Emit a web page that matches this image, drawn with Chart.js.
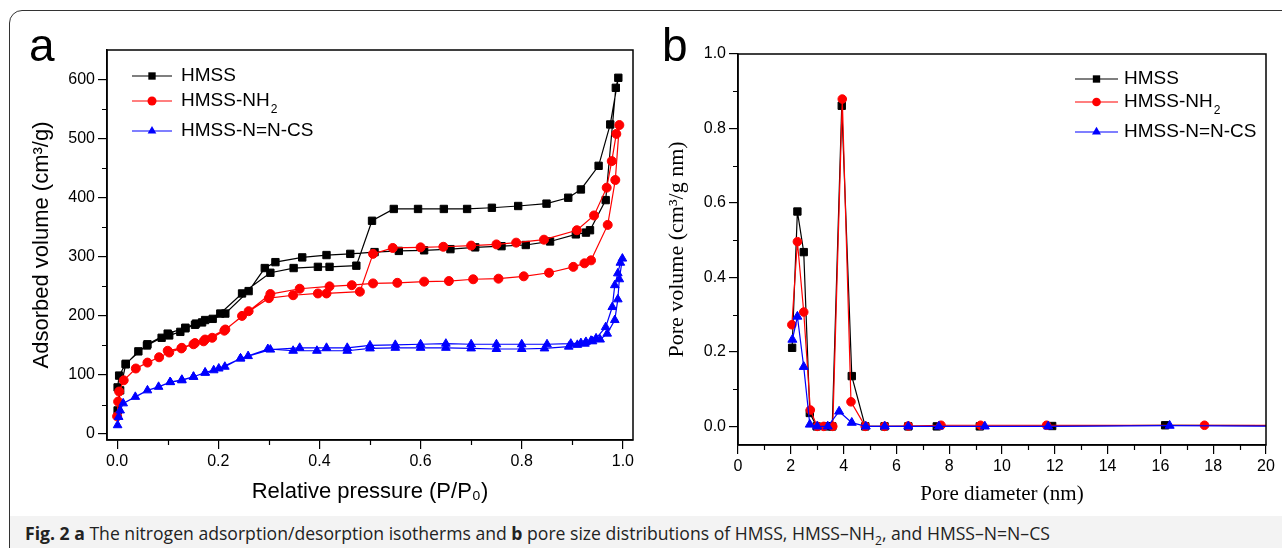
<!DOCTYPE html>
<html>
<head>
<meta charset="utf-8">
<script src="https://cdn.jsdelivr.net/npm/chart.js@4.4.1/dist/chart.umd.min.js"></script>
<style>
  html, body { margin: 0; padding: 0; background: #fff; }
  body { width: 1282px; height: 548px; position: relative; overflow: hidden; }
  #marco { position: absolute; left: 9px; top: 10px; width: 1330px; height: 600px; border: 1.5px solid #333; border-radius: 13px; box-sizing: border-box; }
  #pie { position: absolute; left: 10px; top: 516px; width: 1290px; height: 40px; background: #f3f3f3; }
  #pie p { margin: 0; position: absolute; left: 15px; top: 6px; font-family: 'Open Sans', sans-serif; font-size: 17.6px; line-height: 22px; color: #222; white-space: nowrap; }
  #pie sub { font-size: 12px; line-height: 0; }
  canvas { position: absolute; top: 0; }
  #grafico-a { left: 0; }
  #grafico-b { left: 640px; }
  .letra { position: absolute; font-family: 'Liberation Sans', Arial, sans-serif; font-size: 46px; line-height: 1; color: #000; }
</style>
</head>
<body>
<div id="marco"></div>
<div id="pie"><p><b>Fig. 2</b> <b>a</b> The nitrogen adsorption/desorption isotherms and <b>b</b> pore size distributions of HMSS, HMSS–NH<sub>2</sub>, and HMSS–N=N–CS</p></div>
<canvas id="grafico-a" width="660" height="510"></canvas>
<canvas id="grafico-b" width="642" height="512"></canvas>
<div class="letra" style="left:29px; top:22px;">a</div>
<div class="letra" style="left:662px; top:22px;">b</div>
<script>
// ---- (a) isotermas: presion relativa y volumen adsorbido ----
const hmssAdsP = [0.001, 0.006, 0.017, 0.042, 0.059, 0.088, 0.103, 0.125, 0.135, 0.154, 0.174, 0.204, 0.247, 0.303, 0.349, 0.397, 0.42, 0.473, 0.504, 0.547, 0.595, 0.646, 0.692, 0.741, 0.793, 0.849, 0.892, 0.917, 0.952, 0.975, 0.991];
const hmssAdsV = [40, 74, 118, 140, 150, 163, 167, 173, 179, 185, 193, 204, 238, 273, 281, 283, 283, 285, 361, 381, 381, 381, 381, 383, 386, 390, 400, 414, 454, 524, 603];
const hmssDesP = [0.986, 0.966, 0.935, 0.927, 0.907, 0.856, 0.808, 0.76, 0.708, 0.659, 0.607, 0.557, 0.509, 0.461, 0.414, 0.366, 0.313, 0.292, 0.26, 0.214, 0.189, 0.168, 0.156, 0.135, 0.1, 0.06, 0.017, 0.004, 0.001];
const hmssDesV = [586, 396, 345, 341, 338, 326, 320, 318, 316, 313, 311, 310, 308, 305, 303, 299, 291, 281, 242, 204, 195, 189, 187, 180, 170, 152, 119, 99, 79];

const nh2AdsP = [0.0, 0.002, 0.004, 0.013, 0.037, 0.06, 0.083, 0.103, 0.127, 0.151, 0.171, 0.188, 0.212, 0.247, 0.3, 0.348, 0.397, 0.414, 0.48, 0.506, 0.545, 0.6, 0.645, 0.7, 0.75, 0.789, 0.844, 0.909, 0.943, 0.968, 0.978, 0.987, 0.993];
const nh2AdsV = [30, 55, 72, 91, 111, 121, 130, 138, 145, 152, 157, 163, 175, 200, 230, 235, 238, 238, 241, 305, 315, 316, 317, 319, 321, 324, 329, 345, 370, 417, 462, 508, 523];
const nh2DesP = [0.985, 0.97, 0.937, 0.924, 0.902, 0.854, 0.804, 0.754, 0.704, 0.656, 0.607, 0.554, 0.506, 0.464, 0.42, 0.361, 0.303, 0.26, 0.214, 0.174, 0.154, 0.128, 0.1];
const nh2DesV = [430, 354, 294, 289, 283, 273, 267, 263, 262, 259, 258, 256, 255, 252, 250, 246, 237, 208, 177, 160, 154, 146, 141];

const csAdsP = [0.001, 0.003, 0.006, 0.012, 0.036, 0.06, 0.082, 0.105, 0.128, 0.151, 0.174, 0.191, 0.213, 0.244, 0.298, 0.348, 0.395, 0.455, 0.5, 0.55, 0.6, 0.65, 0.7, 0.75, 0.8, 0.845, 0.893, 0.91, 0.925, 0.94, 0.955, 0.969, 0.984, 0.99, 0.993, 0.999];
const csAdsV = [15, 29, 40, 52, 63, 74, 80, 88, 91, 97, 104, 108, 114, 128, 144, 141, 141, 141, 145, 146, 146, 146, 145, 144, 144, 145, 148, 151, 153, 157, 160, 170, 193, 228, 262, 297];
const csDesP = [0.995, 0.99, 0.984, 0.979, 0.966, 0.947, 0.937, 0.927, 0.917, 0.897, 0.85, 0.8, 0.75, 0.7, 0.65, 0.6, 0.55, 0.5, 0.455, 0.414, 0.361, 0.303, 0.259, 0.244, 0.201, 0.174, 0.151, 0.128, 0.105];
const csDesV = [290, 272, 252, 215, 181, 162, 158, 156, 154, 153, 152, 152, 152, 152, 153, 152, 151, 150, 146, 146, 146, 143, 132, 128, 111, 104, 97, 92, 88];

const marcasXa = [0, 0.2, 0.4, 0.6, 0.8, 1.0];
const menoresXa = [0.1, 0.3, 0.5, 0.7, 0.9];
const marcasYa = [0, 100, 200, 300, 400, 500, 600];
const menoresYa = [50, 150, 250, 350, 450, 550];

// ---- (b) distribucion de poros ----
const hmssDiam = [2.05, 2.25, 2.49, 2.72, 2.98, 3.4, 3.57, 3.93, 4.31, 4.82, 5.55, 6.45, 7.53, 9.16, 11.9, 16.18, 21];
const hmssPoro = [0.211, 0.577, 0.468, 0.036, 0.0, 0.0, 0.0, 0.861, 0.135, 0.0, 0.0, 0.0, 0.0, 0.0, 0.001, 0.003, 0.002];
const nh2Diam = [2.04, 2.25, 2.49, 2.74, 3.0, 3.25, 3.59, 3.95, 4.28, 4.82, 5.55, 6.45, 7.69, 9.19, 11.69, 17.67, 21];
const nh2Poro = [0.273, 0.496, 0.307, 0.044, 0.0, 0.0, 0.0, 0.879, 0.066, 0.0, 0.0, 0.001, 0.003, 0.003, 0.003, 0.003, 0.003];
const csDiam = [2.06, 2.25, 2.49, 2.72, 3.0, 3.4, 3.83, 4.31, 4.84, 5.56, 6.45, 7.61, 9.35, 11.75, 16.35, 21];
const csPoro = [0.233, 0.295, 0.16, 0.005, 0.0, 0.0, 0.04, 0.01, 0.0, 0.0, 0.0, 0.0, 0.0, 0.0, 0.002, 0.0];

const marcasXb = [0, 2, 4, 6, 8, 10, 12, 14, 16, 18, 20];
const menoresXb = [1, 3, 5, 7, 9, 11, 13, 15, 17, 19];
const marcasYb = [0, 0.2, 0.4, 0.6, 0.8, 1.0];
const menoresYb = [0.1, 0.3, 0.5, 0.7, 0.9];

const series = ['HMSS', 'HMSS-NH', 'HMSS-N=N-CS'];
const colores = ['#000000', '#ff0000', '#0000ff'];
const estilos = ['rect', 'circle', 'triangle'];

const fuenteSans = "'Liberation Sans', Arial, sans-serif";
const fuenteSerif = "'Liberation Serif', 'Times New Roman', serif";

function puntos(xs, ys) {
  return xs.map((x, i) => ({ x: x, y: ys[i] }));
}

function dibujarMarcador(ctx, estilo, x, y, r) {
  ctx.beginPath();
  if (estilo === 'rect') {
    const s = r * Math.SQRT1_2;
    ctx.rect(x - s, y - s, 2 * s, 2 * s);
  } else if (estilo === 'circle') {
    ctx.arc(x, y, r, 0, Math.PI * 2);
  } else {
    ctx.moveTo(x, y - r);
    ctx.lineTo(x + r * Math.sin(2 * Math.PI / 3), y - r * Math.cos(2 * Math.PI / 3));
    ctx.lineTo(x + r * Math.sin(4 * Math.PI / 3), y - r * Math.cos(4 * Math.PI / 3));
    ctx.closePath();
  }
  ctx.fill();
}

// marco del area, marcas menores y leyenda
const pluginMarco = {
  id: 'marco',
  afterDraw(chart, args, opts) {
    const ctx = chart.ctx;
    const area = chart.chartArea;
    const sx = chart.scales.x;
    const sy = chart.scales.y;
    ctx.save();
    ctx.strokeStyle = '#000';
    ctx.lineWidth = 1.5;
    ctx.strokeRect(area.left, area.top, area.right - area.left, area.bottom - area.top);

    ctx.lineWidth = 1.2;
    ctx.beginPath();
    for (const v of opts.menoresX) {
      const px = Math.round(sx.getPixelForValue(v)) + 0.5;
      ctx.moveTo(px, area.bottom);
      ctx.lineTo(px, area.bottom + 5);
    }
    for (const v of opts.menoresY) {
      const py = Math.round(sy.getPixelForValue(v)) + 0.5;
      ctx.moveTo(area.left - 5, py);
      ctx.lineTo(area.left, py);
    }
    ctx.stroke();

    const ley = opts.leyenda;
    ctx.font = '19px ' + fuenteSans;
    ctx.textBaseline = 'middle';
    series.forEach((nombre, i) => {
      const y = ley.filas[i];
      ctx.strokeStyle = colores[i];
      ctx.fillStyle = colores[i];
      ctx.lineWidth = 1.2;
      ctx.beginPath();
      ctx.moveTo(ley.x0, y);
      ctx.lineTo(ley.x1, y);
      ctx.stroke();
      dibujarMarcador(ctx, estilos[i], (ley.x0 + ley.x1) / 2, y, ley.radios[i]);
      ctx.fillStyle = '#000';
      ctx.font = '19px ' + fuenteSans;
      ctx.fillText(nombre, ley.xt, y);
      if (i === 1) {
        const w = ctx.measureText(nombre).width;
        ctx.font = '12px ' + fuenteSans;
        ctx.fillText('2', ley.xt + w + 1, y + 9);
      }
    });
    ctx.restore();
  }
};

function conjunto(etiqueta, i, datos, radio) {
  return {
    label: etiqueta,
    data: datos,
    borderColor: colores[i],
    backgroundColor: colores[i],
    borderWidth: 1.2,
    pointStyle: estilos[i],
    pointRadius: radio,
    pointBorderWidth: 1,
    pointBorderColor: colores[i],
    pointBackgroundColor: colores[i],
    tension: 0,
    order: 3 - i
  };
}

function ejeBase(min, max, marcas, formato, titulo, fuenteTitulo, tamTitulo, relleno, tamEje) {
  return {
    type: 'linear',
    min: min,
    max: max,
    afterBuildTicks: (s) => { s.ticks = marcas.map(v => ({ value: v })); },
    ticks: { callback: formato, color: '#000', font: { family: fuenteSans, size: 16 }, padding: 3, includeBounds: false, autoSkip: false, maxRotation: 0 },
    grid: { drawOnChartArea: false, drawTicks: true, tickLength: 9, color: '#000', lineWidth: 1.2 },
    border: { display: true, color: '#000', width: 1.5 },
    title: { display: true, text: titulo, color: '#000', font: { family: fuenteTitulo, size: tamTitulo }, padding: relleno },
    afterFit: tamEje
  };
}

new Chart(document.getElementById('grafico-a'), {
  type: 'line',
  data: {
    datasets: [
      conjunto('HMSS', 0, puntos(hmssAdsP.concat(hmssDesP), hmssAdsV.concat(hmssDesV)), 5.2),
      conjunto('HMSS-NH2', 1, puntos(nh2AdsP.concat(nh2DesP), nh2AdsV.concat(nh2DesV)), 4.5),
      conjunto('HMSS-N=N-CS', 2, puntos(csAdsP.concat(csDesP), csAdsV.concat(csDesV)), 5)
    ]
  },
  options: {
    responsive: false,
    animation: false,
    events: [],
    layout: { padding: { top: 50, right: 27, left: 0, bottom: 0 } },
    scales: {
      x: ejeBase(-0.02, 1.02, marcasXa, v => v.toFixed(1), 'Relative pressure (P/P\u2080)', fuenteSans, 22, { top: 0, bottom: 5 }, s => { s.height = 70; }),
      y: ejeBase(-10, 650, marcasYa, v => String(v), 'Adsorbed volume (cm\u00b3/g)', fuenteSans, 22, { top: 29, bottom: 0 }, s => { s.width = 107; })
    },
    plugins: {
      legend: { display: false },
      tooltip: { enabled: false },
      marco: {
        menoresX: menoresXa,
        menoresY: menoresYa,
        leyenda: { x0: 132, x1: 172, xt: 181, filas: [76, 101, 131], radios: [5.2, 4.5, 5] }
      }
    }
  },
  plugins: [pluginMarco]
});

new Chart(document.getElementById('grafico-b'), {
  type: 'line',
  data: {
    datasets: [
      conjunto('HMSS', 0, puntos(hmssDiam, hmssPoro), 5.2),
      conjunto('HMSS-NH2', 1, puntos(nh2Diam, nh2Poro), 4.3),
      conjunto('HMSS-N=N-CS', 2, puntos(csDiam, csPoro), 5.2)
    ]
  },
  options: {
    responsive: false,
    animation: false,
    events: [],
    layout: { padding: { top: 54, right: 16, left: 0, bottom: 0 } },
    scales: {
      x: ejeBase(0, 20, marcasXb, v => String(v), 'Pore diameter (nm)', fuenteSerif, 21, { top: 0, bottom: 5 }, s => { s.height = 67; }),
      y: ejeBase(-0.05, 1.0, marcasYb, v => v.toFixed(1), 'Pore volume (cm\u00b3/g nm)', fuenteSerif, 22, { top: 24, bottom: 0 }, s => { s.width = 98; })
    },
    plugins: {
      legend: { display: false },
      tooltip: { enabled: false },
      marco: {
        menoresX: menoresXb,
        menoresY: menoresYb,
        leyenda: { x0: 435, x1: 478, xt: 484, filas: [79, 102, 132], radios: [5.2, 4.3, 5.2] }
      }
    }
  },
  plugins: [pluginMarco]
});
</script>
</body>
</html>
